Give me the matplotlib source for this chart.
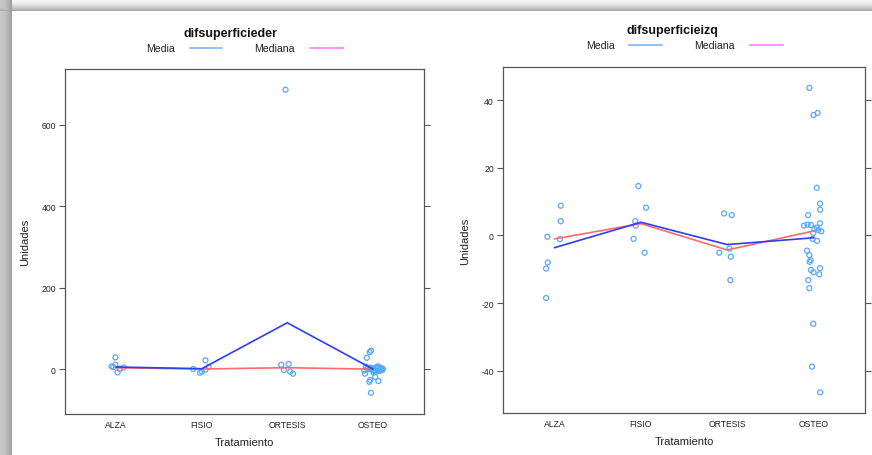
import numpy as np
import matplotlib
matplotlib.use("Agg")
import matplotlib.pyplot as plt
from matplotlib.lines import Line2D

plt.rcParams['font.family'] = ['Liberation Sans', 'DejaVu Sans']
plt.rcParams['axes.unicode_minus'] = False

categorias = ["ALZA", "FISIO", "ORTESIS", "OSTEO"]

# difsuperficieder: values per group, and the horizontal jitter
der_alza = [29, 7, 11, -8, 1, 4, 5]
der_alza_jit = [-0.01, -0.055, -0.01, 0.015, 0.043, 0.086, -0.035]
der_fisio = [21.6, 0.5, -8.6, -5.4, -1.2, 5.4]
der_fisio_jit = [0.043, -0.1, -0.02, 0.0, 0.043, 0.08]
der_ortesis = [686, 11, 12.8, -2, -6, -11]
der_ortesis_jit = [-0.02, -0.07, 0.016, -0.04, 0.035, 0.067]
der_osteo = [45.4, 42, 28, -11, -26.5, -31, -29, -58, -19,
             -3, 2, 4, 1, -2, 5, 3, -4, 0, 1, 6, -1, -6, 2, -3, 4, 0, -8, 7, -2, 3, -5]
der_osteo_jit = [-0.02, -0.035, -0.07, -0.09, -0.03, -0.04, 0.066, -0.02, 0.03,
                 -0.10, -0.06, -0.03, 0.0, 0.02, 0.04, 0.06, 0.08, 0.10, 0.12, -0.08,
                 -0.01, 0.03, 0.05, 0.07, 0.09, -0.04, 0.01, 0.06, 0.11, -0.02, 0.04]
der_media = [5.4, 1.2, 114, 0.5]
der_mediana = [3.5, 0.5, 3.7, 0.0]

# difsuperficieizq
izq_alza = [8.8, 4.2, -0.4, -1.1, -8.0, -9.8, -18.5]
izq_alza_jit = [0.07, 0.07, -0.085, 0.06, -0.08, -0.10, -0.10]
izq_fisio = [14.6, 8.2, 4.2, 2.9, -1.0, -5.1]
izq_fisio_jit = [-0.03, 0.06, -0.066, -0.06, -0.085, 0.043]
izq_ortesis = [6.5, 6.0, -5.1, -3.9, -6.3, -13.2]
izq_ortesis_jit = [-0.035, 0.054, -0.09, 0.027, 0.043, 0.038]
izq_osteo = [43.6, 35.6, 36.2, 14.1, 9.4, 7.6, 6.0, 2.9, 3.2, 3.6, 3.1, 1.9, 2.3, 1.2,
             1.6, 0.7, -1.0, -1.6, -4.5, -5.8, -7.3, -7.8, -10.2, -10.9, -9.7, -11.5,
             -13.2, -15.6, -26.1, -38.8, -46.4]
izq_osteo_jit = [-0.046, 0.003, 0.05, 0.04, 0.078, 0.08, -0.06, -0.108, -0.066, 0.078,
                 -0.027, 0.012, 0.04, 0.093, 0.06, 0.0, -0.008, 0.043, -0.073, -0.046,
                 -0.03, -0.043, -0.027, 0.003, 0.078, 0.07, -0.058, -0.046, 0.0, -0.015, 0.08]
izq_media = [-3.6, 3.9, -2.7, -0.7]
izq_mediana = [-1.0, 3.5, -4.3, 1.3]

fig = plt.figure(figsize=(8.72, 4.56), dpi=100)

# window shadow of the screenshot (top and left edges)
bg = fig.add_axes([0, 0, 1, 1], zorder=-10)
img = np.ones((456, 872))
for r in range(12):
    img[r, :] = np.minimum(img[r, :], 0.97 - 0.30 * (r / 11) ** 1.6)
for c in range(12):
    img[:, c] = np.minimum(img[:, c], 0.78 - 0.16 * (c / 11) ** 2)
bg.imshow(img, cmap="gray", vmin=0, vmax=1, aspect="auto", interpolation="nearest")
bg.axis("off")


def panel(rect, groups, jitters, media, mediana, ylim, yticks):
    ax = fig.add_axes(rect)
    for i, (vals, jit) in enumerate(zip(groups, jitters)):
        x = [i + 1 + j for j in jit]
        ax.scatter(x, vals, s=13, facecolors="none", edgecolors="#5aa6ff",
                   linewidths=0.9, zorder=3)
    pos = range(1, len(categorias) + 1)
    ax.plot(pos, mediana, color="#ff6b6b", lw=1.2, zorder=4)
    ax.plot(pos, media, color="#2d3cff", lw=1.2, zorder=4)
    ax.set_xlim(0.4, 4.6)
    ax.set_ylim(*ylim)
    ax.set_xticks(list(pos))
    ax.set_xticklabels(categorias)
    ax.set_yticks(yticks)
    ax.tick_params(axis="x", length=0, labelsize=6.2, pad=4, labelcolor="#222222")
    ax.tick_params(axis="y", length=4.5, width=0.8, color="#555555",
                   labelsize=6.2, right=True, direction="out", pad=2,
                   labelcolor="#222222")
    for s in ax.spines.values():
        s.set_color("#555555")
        s.set_linewidth(0.9)
    ax.set_xlabel("Tratamiento", fontsize=8, color="#222222", labelpad=6)
    ax.set_ylabel("Unidades", fontsize=8, color="#222222", labelpad=8)
    return ax


def header(title, cx, ty, ly, xs):
    fig.text(cx / 872, 1 - ty / 456, title, ha="center", va="center",
             fontsize=9, fontweight="bold", color="#111111")
    fig.text(xs[0] / 872, 1 - ly / 456, "Media", ha="left", va="center",
             fontsize=7.6, color="#222222")
    fig.add_artist(Line2D([xs[1] / 872, xs[2] / 872], [1 - ly / 456] * 2,
                          color="#80b4ff", lw=1.2))
    fig.text(xs[3] / 872, 1 - ly / 456, "Mediana", ha="left", va="center",
             fontsize=7.6, color="#222222")
    fig.add_artist(Line2D([xs[4] / 872, xs[5] / 872], [1 - ly / 456] * 2,
                          color="#ff80ff", lw=1.2))


panel([65 / 872, 1 - 415 / 456, 359 / 872, 345 / 456],
      [der_alza, der_fisio, der_ortesis, der_osteo],
      [der_alza_jit, der_fisio_jit, der_ortesis_jit, der_osteo_jit],
      der_media, der_mediana, (-110, 737), [0, 200, 400, 600])
panel([503 / 872, 1 - 414 / 456, 362 / 872, 346 / 456],
      [izq_alza, izq_fisio, izq_ortesis, izq_osteo],
      [izq_alza_jit, izq_fisio_jit, izq_ortesis_jit, izq_osteo_jit],
      izq_media, izq_mediana, (-52.5, 49.8), [-40, -20, 0, 20, 40])

header("difsuperficieder", 230, 34, 49, [146, 190, 222, 254, 310, 343])
header("difsuperficieizq", 672, 31, 46, [586, 629, 662, 694, 750, 783])

fig.savefig("out.png", dpi=100)
